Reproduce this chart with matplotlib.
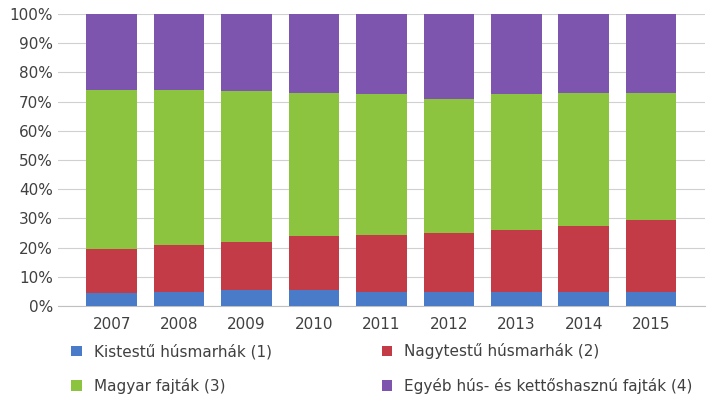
import matplotlib.pyplot as plt
import numpy as np
from matplotlib.ticker import PercentFormatter

years = ['2007', '2008', '2009', '2010', '2011', '2012', '2013', '2014', '2015']
# cumulative tops (%)
kistestu = [4.5, 5, 5.5, 5.5, 5, 5, 5, 5, 5]
red_top = [19.5, 21, 22, 24, 24.5, 25, 26, 27.5, 29.5]
green_top = [74, 74, 73.5, 73, 72.5, 71, 72.5, 73, 73]

kistestu = np.array(kistestu)
nagytestu = np.array(red_top) - kistestu
magyar = np.array(green_top) - np.array(red_top)
egyeb = 100 - np.array(green_top)

labels = ['Kistestű húsmarhák (1)', 'Nagytestű húsmarhák (2)',
          'Magyar fajták (3)', 'Egyéb hús- és kettőshasznú fajták (4)']
colors = ['#4A7BC8', '#C33B47', '#8DC43F', '#7E55AE']

fig = plt.figure(figsize=(7.21, 4.2), dpi=100)
ax = fig.add_axes([0.08, 0.271, 0.898, 0.696])
x = np.arange(len(years))
bottom = np.zeros(len(years))
for vals, lab, col in zip([kistestu, nagytestu, magyar, egyeb], labels, colors):
    ax.bar(x, vals, 0.75, bottom=bottom, color=col, label=lab, zorder=3)
    bottom += vals

ax.set_ylim(0, 100)
ax.set_xlim(-0.8, len(years) - 0.2)
ax.set_yticks(range(0, 101, 10))
ax.yaxis.set_major_formatter(PercentFormatter(decimals=0))
ax.set_xticks(x)
ax.set_xticklabels(years)
ax.grid(axis='y', color='#d0d0d0', linewidth=0.8, zorder=0)
for s in ['top', 'right', 'left']:
    ax.spines[s].set_visible(False)
ax.spines['bottom'].set_color('#c0c0c0')
ax.tick_params(length=0, labelsize=11, colors='#404040')
ax.tick_params(axis='x', pad=8)

handles, labs = ax.get_legend_handles_labels()
order = [0, 2, 1, 3]
fig.legend([handles[i] for i in order], [labs[i] for i in order],
           loc='lower left', bbox_to_anchor=(0.08, 0.03, 0.9, 0.2),
           ncol=2, mode='expand', frameon=False, fontsize=11, handlelength=0.7,
           handleheight=0.7, labelspacing=1.2, labelcolor='#404040')

fig.savefig('out.png', dpi=100)
